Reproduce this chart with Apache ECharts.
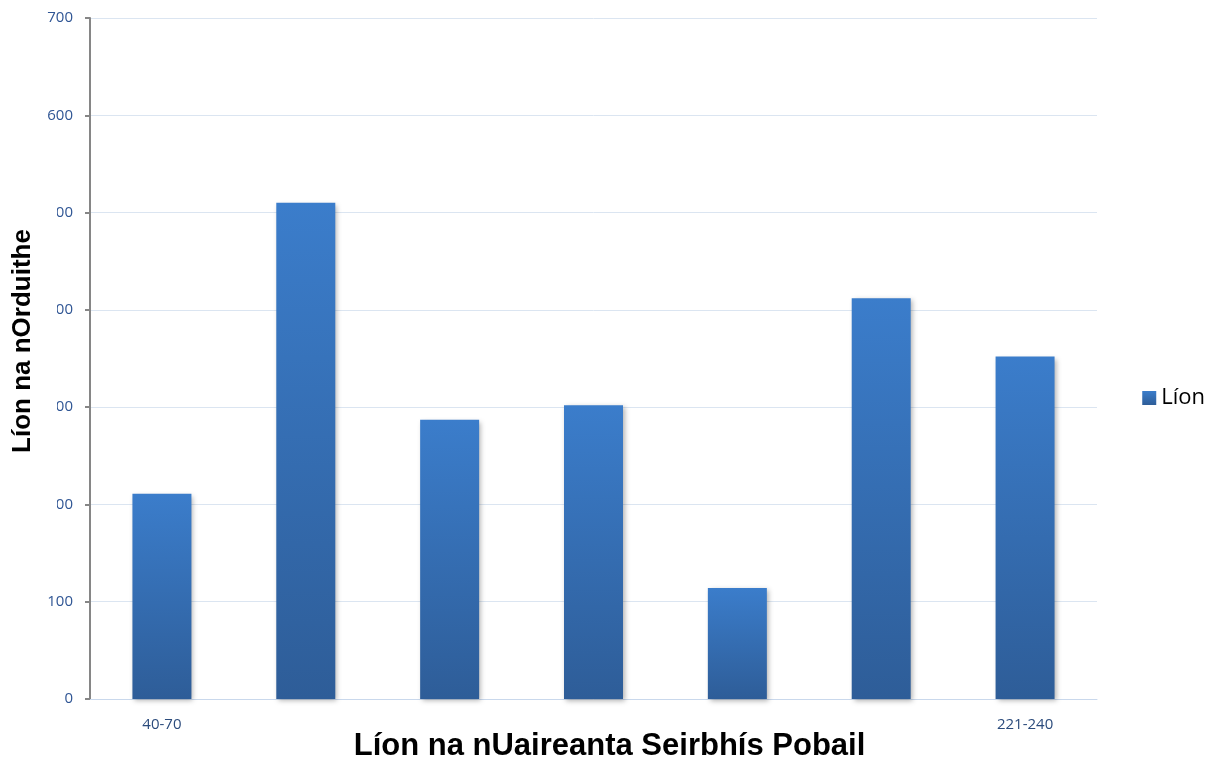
<!DOCTYPE html>
<html>
<head>
<meta charset="utf-8">
<script src="https://cdn.jsdelivr.net/npm/echarts@6/dist/echarts.min.js"></script>
<style>
  html, body { margin: 0; padding: 0; background: #fff; }
  #chart { width: 1216px; height: 762px; }
</style>
</head>
<body>
<div id="chart"></div>
<script>
const categories = ["40-70", "71-100", "101-130", "131-160", "161-190", "191-220", "221-240"];
const shownLabels = ["40-70", "221-240"];
const values = [211, 510, 287, 302, 114, 412, 352];
const seriesName = "Líon";
const xTitle = "Líon na nUaireanta Seirbhís Pobail";
const yTitle = "Líon na nOrduithe";

const chart = echarts.init(document.getElementById("chart"));

const barColor = new echarts.graphic.LinearGradient(0, 0, 0, 1, [
  { offset: 0, color: "#3b7dcb" },
  { offset: 1, color: "#2e5d98" }
]);

chart.setOption({
  animation: false,
  grid: { left: 90, right: 119, top: 18, bottom: 63, outerBoundsMode: "none" },
  legend: {
    right: 6,
    top: 382,
    itemWidth: 14,
    itemHeight: 14,
    itemGap: 6,
    icon: "rect",
    textStyle: { fontFamily: "Open Sans", fontSize: 22, color: "#000" },
    data: [seriesName]
  },
  // y title drawn on top so it hides part of the tick labels, like the original
  graphic: [{
    type: "text",
    z: 100,
    x: 23,
    y: 358,
    rotation: Math.PI / 2,
    style: {
      text: yTitle,
      font: "bold 26px 'Liberation Sans'",
      fill: "#000",
      align: "center",
      verticalAlign: "middle",
      backgroundColor: "#fff",
      padding: [16, 30, 26, 64]
    }
  }],
  xAxis: {
    type: "category",
    data: categories,
    name: xTitle,
    nameLocation: "middle",
    nameGap: 32,
    nameMoveOverlap: false,
    nameTextStyle: {
      fontFamily: "Liberation Sans",
      fontWeight: "bold",
      fontSize: 31,
      color: "#000",
      padding: [0, 0, 0, 32]
    },
    axisLine: { lineStyle: { color: "#c9d8ec" } },
    axisTick: { show: false },
    axisLabel: {
      interval: 0,
      margin: 18,
      fontFamily: "Open Sans",
      fontSize: 15,
      color: "#2b4b7c",
      formatter: v => (shownLabels.includes(v) ? v : "")
    }
  },
  yAxis: {
    type: "value",
    min: 0,
    max: 700,
    interval: 100,
    axisLine: { show: true, lineStyle: { color: "#868686", width: 2 } },
    axisTick: { show: true, length: 5, lineStyle: { color: "#868686", width: 2 } },
    axisLabel: {
      margin: 17,
      fontFamily: "Open Sans",
      fontSize: 15,
      color: "#2f5594"
    },
    splitLine: { lineStyle: { color: "#dbe5f1", width: 1 } }
  },
  series: [{
    name: seriesName,
    type: "bar",
    data: values,
    barWidth: 59,
    itemStyle: {
      color: barColor,
      shadowBlur: 5,
      shadowOffsetX: 2,
      shadowOffsetY: 2,
      shadowColor: "rgba(0,0,0,0.3)"
    }
  }]
});
</script>
</body>
</html>
